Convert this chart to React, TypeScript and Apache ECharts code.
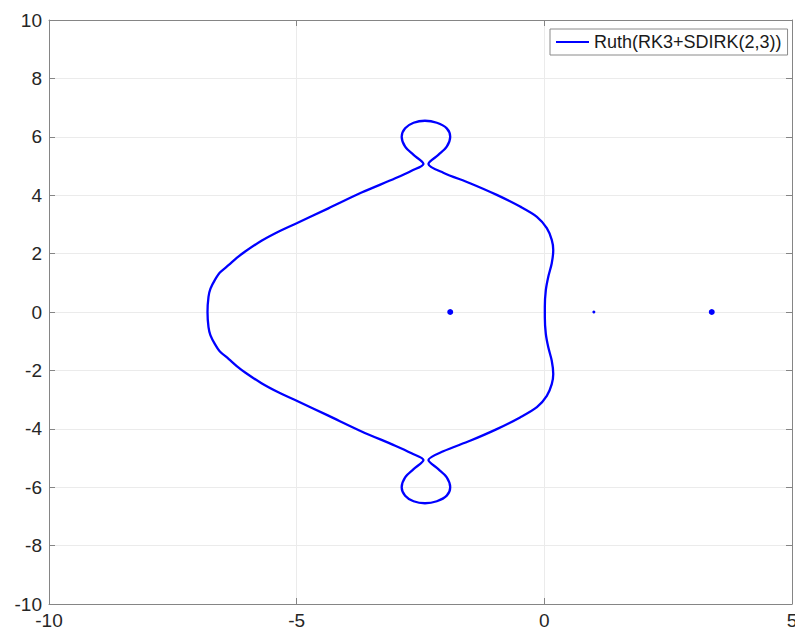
import React, { useEffect, useRef } from "react";
import * as echarts from "echarts";

const seriesName = "Ruth(RK3+SDIRK(2,3))";

// Stability boundary, traced counter-clockwise starting at the right side (x ~ 0, y = 0)
const upperX = [0.01, 0.01, 0.03, 0.08, 0.15, 0.18, 0.15, 0.05, -0.15, -0.49, -0.96, -1.5, -2.04, -2.34, -2.14, -1.97, -1.9, -1.97, -2.17, -2.41, -2.64, -2.81, -2.88, -2.81, -2.64, -2.44, -2.68, -3.01, -3.69, -4.36, -5.0, -5.37, -5.71, -6.04, -6.21, -6.37, -6.55, -6.65, -6.74, -6.78, -6.8];
const upperY = [0, 0.18, 0.75, 1.21, 1.67, 2.12, 2.47, 2.87, 3.26, 3.61, 4.01, 4.41, 4.77, 5.07, 5.38, 5.66, 6.0, 6.29, 6.48, 6.55, 6.48, 6.29, 6.0, 5.66, 5.38, 5.07, 4.84, 4.58, 4.09, 3.55, 3.04, 2.75, 2.44, 2.07, 1.85, 1.61, 1.35, 1.1, 0.8, 0.52, 0];
const lowerX = [-6.78, -6.74, -6.65, -6.55, -6.37, -6.21, -6.04, -5.71, -5.37, -5.0, -4.36, -3.69, -3.01, -2.68, -2.44, -2.64, -2.81, -2.88, -2.81, -2.64, -2.41, -2.17, -1.97, -1.9, -1.97, -2.14, -2.34, -2.04, -1.5, -0.96, -0.49, -0.15, 0.05, 0.15, 0.18, 0.15, 0.08, 0.03, 0.01, 0.01];
const lowerY = [-0.52, -0.8, -1.1, -1.35, -1.61, -1.85, -2.07, -2.44, -2.75, -3.04, -3.55, -4.09, -4.58, -4.84, -5.07, -5.38, -5.66, -6.0, -6.29, -6.48, -6.55, -6.48, -6.29, -6.0, -5.66, -5.38, -5.07, -4.77, -4.41, -4.01, -3.61, -3.26, -2.87, -2.47, -2.12, -1.67, -1.21, -0.75, -0.18, 0];

// Isolated points on the real axis
const bigDotsX = [-1.9, 3.38];
const smallDotsX = [1.0];

const xTicks = [-10, -5, 0, 5];
const yTicks = [-10, -8, -6, -4, -2, 0, 2, 4, 6, 8, 10];

const FONT = "'Liberation Sans', Arial, Helvetica, sans-serif";
const AXIS_COLOR = "#858585";
const GRID_COLOR = "#ebebeb";
const TEXT_COLOR = "#262626";

export default function App() {
  const ref = useRef<HTMLDivElement>(null);

  useEffect(() => {
    document.body.style.margin = "0";
    document.body.style.overflow = "hidden";
    if (!ref.current) return;
    const chart = echarts.init(ref.current, undefined, { renderer: "svg", width: 795, height: 630 });

    const curve: number[][] = [];
    upperX.forEach((x, i) => curve.push([x, upperY[i]]));
    lowerX.forEach((x, i) => curve.push([x, lowerY[i]]));

    const axisCommon = {
      axisLine: { show: true, onZero: false, lineStyle: { color: AXIS_COLOR, width: 1 } },
      axisTick: { show: true, inside: true, length: 6, lineStyle: { color: AXIS_COLOR } },
    };

    chart.setOption({
      animation: false,
      backgroundColor: "#ffffff",
      textStyle: { fontFamily: FONT },
      grid: { left: 49, right: 3, top: 20, bottom: 26, containLabel: false, outerBoundsMode: "none" },
      legend: {
        data: [seriesName],
        left: 550,
        top: 29,
        padding: [4, 6, 4, 6],
        borderColor: "#8a8a8a",
        borderWidth: 1,
        backgroundColor: "#ffffff",
        icon: "rect",
        itemWidth: 33,
        itemHeight: 2,
        itemGap: 5,
        textStyle: { fontSize: 18, color: "#1a1a1a", fontFamily: FONT, padding: [0, 0, 0, 0] },
      },
      xAxis: [
        {
          type: "value",
          min: -10,
          max: 5,
          interval: 5,
          position: "bottom",
          ...axisCommon,
          axisLabel: {
            show: true,
            margin: 7,
            fontSize: 19,
            color: TEXT_COLOR,
            fontFamily: FONT,
            formatter: (v: number) => (xTicks.includes(v) ? String(v) : ""),
          },
          splitLine: { show: true, lineStyle: { color: GRID_COLOR, width: 1 } },
        },
        {
          type: "value",
          min: -10,
          max: 5,
          interval: 5,
          position: "top",
          ...axisCommon,
          axisLabel: { show: false },
          splitLine: { show: false },
        },
      ],
      yAxis: [
        {
          type: "value",
          min: -10,
          max: 10,
          interval: 2,
          position: "left",
          ...axisCommon,
          axisLabel: {
            show: true,
            margin: 7,
            fontSize: 19,
            color: TEXT_COLOR,
            fontFamily: FONT,
            formatter: (v: number) => (yTicks.includes(v) ? String(v) : ""),
          },
          splitLine: { show: true, lineStyle: { color: GRID_COLOR, width: 1 } },
        },
        {
          type: "value",
          min: -10,
          max: 10,
          interval: 2,
          position: "right",
          ...axisCommon,
          axisLabel: { show: false },
          splitLine: { show: false },
        },
      ],
      series: [
        {
          name: seriesName,
          type: "line",
          xAxisIndex: 0,
          yAxisIndex: 0,
          data: curve,
          showSymbol: false,
          symbol: "none",
          smooth: 0.3,
          lineStyle: { color: "#0000ff", width: 2.3 },
          itemStyle: { color: "#0000ff" },
        },
        {
          name: "dots",
          type: "scatter",
          xAxisIndex: 0,
          yAxisIndex: 0,
          data: bigDotsX.map((x) => [x, 0]),
          symbol: "circle",
          symbolSize: 6,
          itemStyle: { color: "#0000ff", opacity: 1 },
        },
        {
          name: "smallDots",
          type: "scatter",
          xAxisIndex: 0,
          yAxisIndex: 0,
          data: smallDotsX.map((x) => [x, 0]),
          symbol: "circle",
          symbolSize: 3,
          itemStyle: { color: "#0000ff", opacity: 1 },
        },
      ],
    });

    return () => chart.dispose();
  }, []);

  return <div ref={ref} style={{ width: 795, height: 630, position: "fixed", left: 0, top: 0 }} />;
}
